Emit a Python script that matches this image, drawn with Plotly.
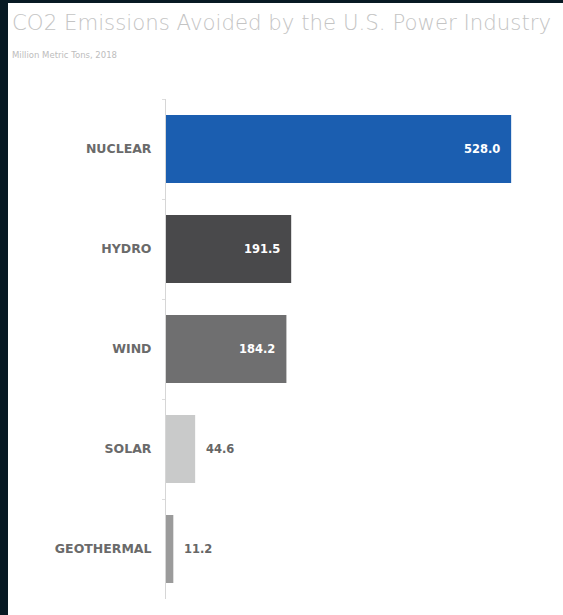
import plotly.graph_objects as go

categories = ["NUCLEAR", "HYDRO", "WIND", "SOLAR", "GEOTHERMAL"]
values = [528.0, 191.5, 184.2, 44.6, 11.2]
bar_colors = ["#1b5eb0", "#49494b", "#6f6f70", "#c9caca", "#9b9b9b"]
title_text = "CO2 Emissions Avoided by the U.S. Power Industry"
subtitle_text = "Million Metric Tons, 2018"

W, H = 563, 615
L, R, T, B = 166, 10, 99, 16
pw, ph = W - L - R, H - T - B

def px_x(px):
    return (px - L) / pw

def px_y(py):
    return (H - B - py) / ph

fig = go.Figure(go.Bar(
    x=values, y=categories, orientation="h",
    marker=dict(color=bar_colors, line=dict(width=0)),
    width=0.68, hoverinfo="skip",
))

annotations = []
for c, v in zip(categories, values):
    inside = v > 100
    annotations.append(dict(
        x=v, y=c, xref="x", yref="y", text=f"{v:.1f}", showarrow=False,
        xanchor="right" if inside else "left", xshift=-9 if inside else 9,
        font=dict(family="DejaVu Sans", size=11.5, color="#ffffff" if inside else "#666666", weight="bold"),
    ))
annotations.append(dict(x=px_x(10), y=px_y(22), xref="paper", yref="paper", text=title_text,
                        showarrow=False, xanchor="left", yanchor="middle",
                        font=dict(family="DejaVu Sans", size=21.3, color="#c4c4c4", weight=300)))
annotations.append(dict(x=px_x(10), y=px_y(55), xref="paper", yref="paper", text=subtitle_text,
                        showarrow=False, xanchor="left", yanchor="middle",
                        font=dict(family="DejaVu Sans", size=8.5, color="#bdbdbd")))

shapes = [
    dict(type="rect", xref="paper", yref="paper", x0=px_x(-2), x1=px_x(8), y0=px_y(H + 2), y1=px_y(-2),
         fillcolor="#071923", line=dict(width=0)),
    dict(type="rect", xref="paper", yref="paper", x0=px_x(-2), x1=px_x(W + 2), y0=px_y(3), y1=px_y(-2),
         fillcolor="#071923", line=dict(width=0)),
]

fig.update_layout(
    width=W, height=H, margin=dict(l=L, r=R, t=T, b=B),
    paper_bgcolor="#ffffff", plot_bgcolor="#ffffff",
    showlegend=False, annotations=annotations, shapes=shapes,
    xaxis=dict(range=[0, 592], visible=False, fixedrange=True),
    yaxis=dict(autorange="reversed", showline=True, linecolor="#d6d6d6", linewidth=1,
               ticks="outside", tickson="boundaries", ticklen=3, tickcolor="#dddddd",
               ticklabelstandoff=11, showgrid=False, zeroline=False, fixedrange=True,
               tickfont=dict(family="DejaVu Sans", size=12.5, color="#6a6a6a", weight="bold")),
)

fig.write_html("out.html", config={"displayModeBar": False},
               post_script="document.body.style.margin='0';document.body.style.overflow='hidden';")
